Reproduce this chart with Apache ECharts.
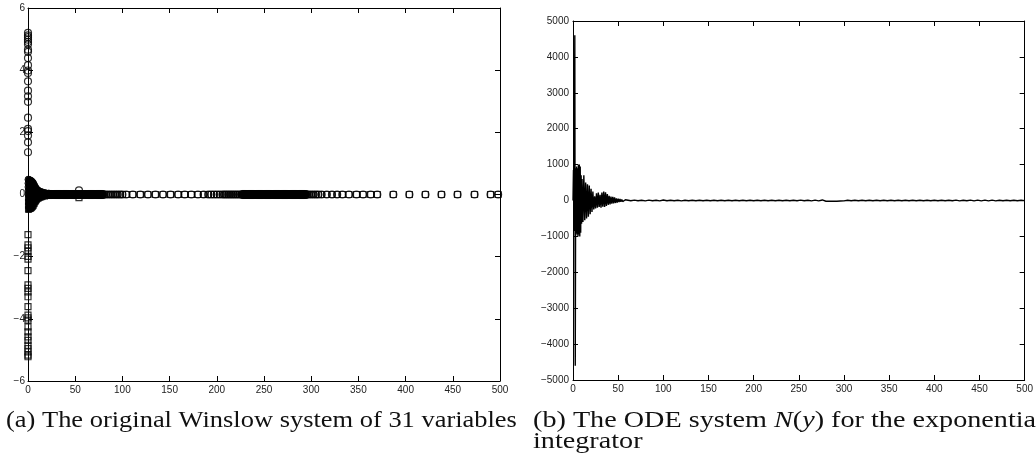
<!DOCTYPE html>
<html><head><meta charset="utf-8">
<script src="https://cdn.jsdelivr.net/npm/echarts@6/dist/echarts.min.js"></script>
<style>html,body{margin:0;padding:0;background:#fff}#c{width:1036px;height:463px}</style>
</head><body><div id="c"></div>
<script>
// ---------- Panel (a): Winslow system ----------
const leftXTicks = [0, 50, 100, 150, 200, 250, 300, 350, 400, 450, 500];
const leftYTicks = [-6, -4, -2, 0, 2, 4, 6];
// initial column at t = 0: positive values (circles) and negative values (squares)
const initCircleY = [5.20, 5.12, 5.06, 4.98, 4.91, 4.83, 4.66, 4.59, 4.39, 4.16, 3.99, 3.91, 3.64, 3.34, 3.16, 2.98, 2.47, 2.11, 2.04, 1.90, 1.68, 1.36];
const initSquareY = [-1.29, -1.62, -1.72, -1.83, -1.99, -2.08, -2.45, -2.91, -3.02, -3.13, -3.29, -3.61, -3.88, -3.97, -4.04, -4.26, -4.42, -4.58, -4.69, -4.85, -4.96, -5.06, -5.17, -5.22];
// early transient (funnel near t = 0)
const funnelX = [0.5, 0.5, 0.5, 0.5, 1.5, 1.5, 1.5, 2.5, 2.5, 2.5, 3.5, 3.5, 3.5, 4.5, 4.5, 5.5, 5.5, 6.5, 7.5, 8.5, 9.5, 11, 13, 15, 18, 22];
const funnelCircleY = [0.48, 0.36, 0.24, 0.12, 0.46, 0.32, 0.18, 0.45, 0.30, 0.15, 0.43, 0.28, 0.14, 0.40, 0.20, 0.36, 0.18, 0.30, 0.24, 0.19, 0.15, 0.12, 0.09, 0.07, 0.05, 0.03];
const funnelSquareY = [-0.48, -0.36, -0.24, -0.12, -0.46, -0.32, -0.18, -0.45, -0.30, -0.15, -0.43, -0.28, -0.14, -0.40, -0.20, -0.36, -0.18, -0.30, -0.24, -0.19, -0.15, -0.12, -0.09, -0.07, -0.05, -0.03];
// time steps where all variables sit at ~0: densely packed steps
const bandDenseX = [1, 2, 3, 4, 5, 6, 7, 8, 9, 10, 11, 12, 13, 14, 15, 16, 17, 18, 19, 20,
  21, 22, 23, 24, 25, 26, 27, 28, 29, 30, 31, 32, 33, 34, 35, 36, 37, 38, 39, 40,
  41, 42, 43, 44, 45, 46, 47, 48, 49, 50, 51, 52, 53, 54, 55, 56, 57, 58, 59, 60,
  61, 62, 63, 64, 65, 66, 67, 68, 69, 70, 71, 72, 73, 74, 75, 76, 77, 78, 79, 80,
  227, 228, 229, 230, 231, 232, 233, 234, 235, 236, 237, 238, 239, 240, 241, 242, 243, 244, 245, 246,
  247, 248, 249, 250, 251, 252, 253, 254, 255, 256, 257, 258, 259, 260, 261, 262, 263, 264, 265, 266,
  267, 268, 269, 270, 271, 272, 273, 274, 275, 276, 277, 278, 279, 280, 281, 282, 283, 284, 285, 286,
  287, 288, 289, 290, 291, 292, 293, 294, 295];
// ...and the more widely spaced steps
const bandSparseX = [82.5, 85, 87.5, 90, 92.5, 95, 97.5, 100,
  104, 111, 119, 127, 135, 143, 151, 159, 166, 173, 180, 186,
  191, 194, 197, 200, 203, 206,
  208, 210, 212, 214, 216, 218, 220, 222, 224, 226,
  297.5, 300, 302.5, 305, 307.5,
  311, 316.5, 322, 327.5, 333, 340, 348, 355, 363, 370, 387, 404, 421, 438, 455, 473, 490, 498];
const bandY = 0;
const outlierX = [54];
const outlierCircleY = [0.13];
const outlierSquareY = [-0.10];

// ---------- Panel (b): ODE system N(y) ----------
const rightXTicks = [0, 50, 100, 150, 200, 250, 300, 350, 400, 450, 500];
const rightYTicks = [-5000, -4000, -3000, -2000, -1000, 0, 1000, 2000, 3000, 4000, 5000];
const odeX = [0, 0.5, 1, 1.5, 2, 2.5, 3, 3.5, 4, 4.5, 5, 5.5, 6, 6.5, 7, 7.5, 8, 8.5, 9, 9.5, 10,
  11, 12, 13, 14, 15, 16, 17, 18, 19, 20, 21, 22, 23, 24, 25, 26, 27, 28, 29, 30,
  31, 32, 33, 34, 35, 36, 37, 38, 39, 40, 41, 42, 43, 44, 45, 46, 47, 48, 49, 50,
  51, 52, 53, 54, 55, 56, 57, 58, 59, 60,
  64, 68, 72, 76, 80, 84, 88, 92, 96, 100, 104, 108, 112, 116, 120, 124, 128, 132, 136, 140,
  144, 148, 152, 156, 160, 164, 168, 172, 176, 180, 184, 188, 192, 196, 200, 204, 208, 212, 216, 220,
  224, 228, 232, 236, 240, 244, 248, 252, 256, 260, 264, 268, 272, 276, 280, 282, 284, 286, 288, 290,
  292, 294, 296, 298, 300, 304, 308, 312, 316, 320, 324, 328, 332, 336, 340, 344, 348, 352, 356, 360,
  364, 368, 372, 376, 380, 384, 388, 392, 396, 400, 404, 408, 412, 416, 420, 424, 428, 432, 436, 440,
  444, 448, 452, 456, 460, 464, 468, 472, 476, 480, 484, 488, 492, 496, 500];
const odeY = [0, 850, -850, 900, 4600, -4600, 900, -900, 950, -950, 900, -1000, 1000, -950, 1000, -1000, 950, -900, 700, -650, 600,
  -600, 700, -550, 500, -500, 450, -450, 420, -380, 330, -320, 250, -250, 120, -220, 200, -200, 220, -180, 160,
  -200, 220, -170, 250, -180, 230, -150, 180, -120, 130, -110, 110, -90, 100, -80, 90, -70, 60, -60, 50,
  -45, 40, -35, 30, -30, 25, -25, 20, -20, 15,
  -8, 10, -6, 8, -10, 12, -8, 6, -12, 15, -8, 8, -6, 8, -10, 8, -6, 6, -8, 6,
  -6, 8, -8, 6, -6, 8, -6, 6, -8, 6, -6, 8, -6, 6, -8, 6, -6, 8, -8, 6,
  -6, 8, -6, 6, -8, 6, -8, 10, -8, 8, -10, 12, -12, 15, -20, 22, -18, 20, -22, 18,
  -20, 18, -15, 12, -10, 8, -6, 6, -8, 6, -6, 8, -6, 6, -8, 6, -6, 8, -6, 6,
  -8, 6, -6, 8, -6, 6, -8, 6, -6, 8, -6, 6, -8, 6, -8, 10, -10, 8, -8, 10,
  -12, 12, -10, 12, -12, 10, -10, 8, -8, 6, -6, 8, -6, 6, -4];

// ---------- build ----------
const minus = v => String(v).replace('-', '\u2212');
function axis(extra) {
  return Object.assign({
    type: 'value',
    axisLine: { show: true, onZero: false, lineStyle: { color: '#000', width: 1 } },
    axisTick: { show: true, inside: true, length: 5, lineStyle: { color: '#000', width: 1 } },
    splitLine: { show: false },
    axisLabel: { show: true, color: '#222', fontSize: 10, fontFamily: 'Liberation Sans', margin: 4, formatter: minus }
  }, extra);
}
const noLabel = { show: false };
const hollow = { color: 'rgba(0,0,0,0)', borderColor: '#000', borderWidth: 1.2 };
const solid = { color: '#000', borderColor: '#000', borderWidth: 1 };
function scat(data, symbol, size, style) {
  return { type: 'scatter', xAxisIndex: 0, yAxisIndex: 0, symbol: symbol, symbolSize: size,
           itemStyle: style || hollow, data: data, clip: false, silent: true, z: 3 };
}

const serif = 'Liberation Serif';
const option = {
  animation: false,
  backgroundColor: '#fff',
  grid: [
    { left: 28, top: 8, width: 472, height: 373, show: false },
    { left: 573, top: 21, width: 456, height: 359, show: false }
  ],
  xAxis: [
    axis({ gridIndex: 0, position: 'bottom', min: leftXTicks[0], max: leftXTicks[leftXTicks.length - 1], interval: leftXTicks[1] - leftXTicks[0] }),
    axis({ gridIndex: 0, position: 'top', min: leftXTicks[0], max: leftXTicks[leftXTicks.length - 1], interval: leftXTicks[1] - leftXTicks[0], axisLabel: noLabel }),
    axis({ gridIndex: 1, position: 'bottom', min: rightXTicks[0], max: rightXTicks[rightXTicks.length - 1], interval: rightXTicks[1] - rightXTicks[0] }),
    axis({ gridIndex: 1, position: 'top', min: rightXTicks[0], max: rightXTicks[rightXTicks.length - 1], interval: rightXTicks[1] - rightXTicks[0], axisLabel: noLabel })
  ],
  yAxis: [
    axis({ gridIndex: 0, position: 'left', min: leftYTicks[0], max: leftYTicks[leftYTicks.length - 1], interval: leftYTicks[1] - leftYTicks[0], axisLabel: { color: '#222', fontSize: 10, fontFamily: 'Liberation Sans', margin: 3, formatter: minus } }),
    axis({ gridIndex: 0, position: 'right', min: leftYTicks[0], max: leftYTicks[leftYTicks.length - 1], interval: leftYTicks[1] - leftYTicks[0], axisLabel: noLabel }),
    axis({ gridIndex: 1, position: 'left', min: rightYTicks[0], max: rightYTicks[rightYTicks.length - 1], interval: rightYTicks[1] - rightYTicks[0] }),
    axis({ gridIndex: 1, position: 'right', min: rightYTicks[0], max: rightYTicks[rightYTicks.length - 1], interval: rightYTicks[1] - rightYTicks[0], axisLabel: noLabel })
  ],
  series: [
    scat(initCircleY.map(y => [0, y]), 'circle', 7),
    scat(initSquareY.map(y => [0, y]), 'rect', 6),
    scat(funnelX.map((x, i) => [x, funnelCircleY[i]]), 'circle', 7, solid),
    scat(funnelX.map((x, i) => [x, funnelSquareY[i]]), 'rect', 6, solid),
    scat(bandDenseX.map(x => [x, bandY]), 'circle', 8, solid),
    scat(bandSparseX.map(x => [x, bandY]), 'circle', 7),
    scat(bandSparseX.map(x => [x, bandY]), 'rect', 6),
    scat(outlierX.map((x, i) => [x, outlierCircleY[i]]), 'circle', 7),
    scat(outlierX.map((x, i) => [x, outlierSquareY[i]]), 'rect', 6),
    { type: 'line', xAxisIndex: 2, yAxisIndex: 2, showSymbol: false, symbol: 'none', silent: true,
      lineStyle: { color: '#000', width: 1.4 }, data: odeX.map((x, i) => [x, odeY[i]]) }
  ],
  graphic: [
    { type: 'text', left: 6, top: 409, scaleX: 1.15, silent: true,
      style: { text: '(a) The original Winslow system of 31 variables', fontSize: 23, fontFamily: serif, fill: '#111' } },
    { type: 'text', left: 533, top: 409, scaleX: 1.225, silent: true,
      style: {
        text: '{n|(b) The ODE system }{i|N}{n|(}{i|y}{n|) for the exponential}\n{n|integrator}',
        fill: '#111',
        rich: {
          n: { fontSize: 23, fontFamily: serif, lineHeight: 21, fill: '#111' },
          i: { fontSize: 23, fontFamily: serif, fontStyle: 'italic', lineHeight: 21, fill: '#111' }
        }
      } }
  ]
};
const chart = echarts.init(document.getElementById('c'), null, { renderer: 'canvas' });
chart.setOption(option);
</script>
</body></html>
